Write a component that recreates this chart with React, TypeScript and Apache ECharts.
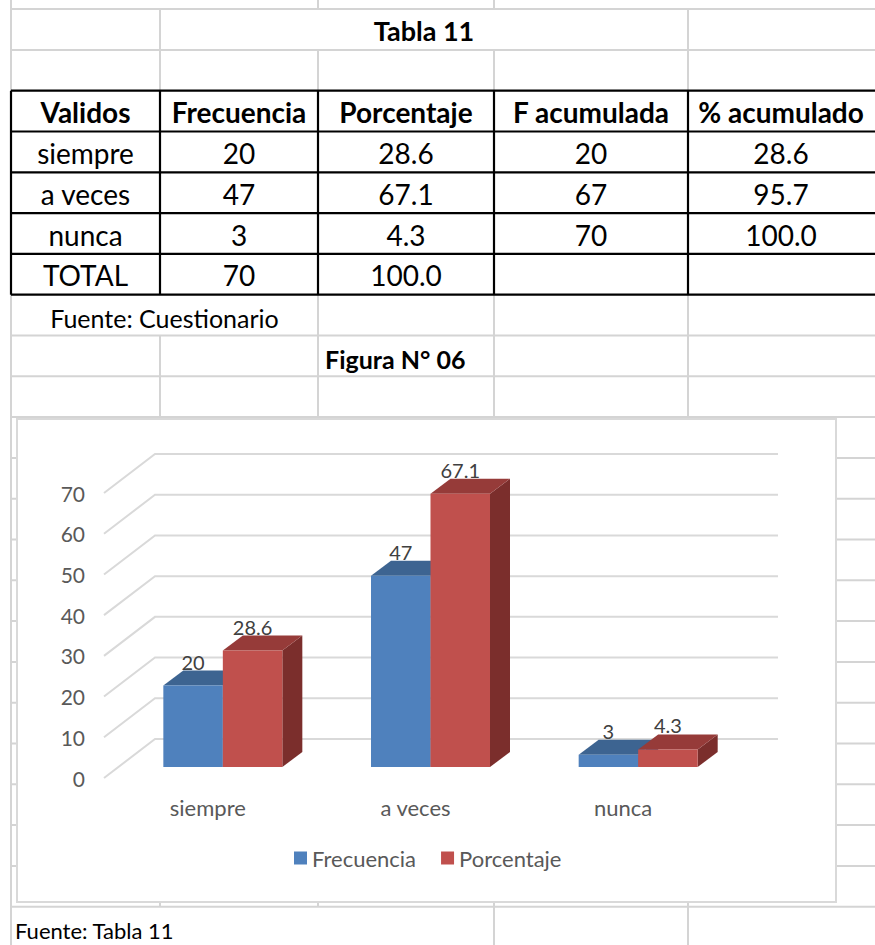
import React, { useEffect, useRef } from 'react';
import * as echarts from 'echarts';

// ---------- data ----------
const tableTitle = 'Tabla 11';
const figureTitle = 'Figura N° 06';
const tableSource = 'Fuente: Cuestionario';
const figureSource = 'Fuente: Tabla 11';
const headers = ['Validos', 'Frecuencia', 'Porcentaje', 'F acumulada', '% acumulado'];
const categories = ['siempre', 'a veces', 'nunca'];
const frecuencia = [20, 47, 3];
const porcentaje = [28.6, 67.1, 4.3];
const fAcumulada = [20, 67, 70];
const pctAcumulado = [28.6, 95.7, 100.0];
const totalLabel = 'TOTAL';
const totalFrecuencia = 70;
const totalPorcentaje = 100.0;
const seriesNames = ['Frecuencia', 'Porcentaje'];
const yTicks = [0, 10, 20, 30, 40, 50, 60, 70];

// ---------- layout / style ----------
const FONT = 'Lato, "Noto Sans", sans-serif';
const COLS = [11, 160, 318, 494, 688, 874];
const ROW0 = 9.1;
const ROW_H = 40.8;
const rowY = (k: number) => ROW0 + k * ROW_H;
const GRAY = '#d4d4d4';
const TABLE_FS = 28;
const CHART_TXT = '#595959';

const WALL_DX = 51, WALL_DY = -39;
const FRONT_DX = 15, FRONT_DY = -11;
const BD_X = 20, BD_Y = -15;
const BAR_FRAC = 0.2865;

const barColors = [
  { front: '#4f81bd', top: '#3d6491', side: '#385d89' },
  { front: '#c0504d', top: '#963b39', side: '#7b2e2c' },
];

function hline(y: number, x1: number, x2: number, color = GRAY, w = 2) {
  return { type: 'line', silent: true, z: 0, shape: { x1, y1: y, x2, y2: y }, style: { stroke: color, lineWidth: w } };
}
function vline(x: number, y1: number, y2: number, color = GRAY, w = 2) {
  return { type: 'line', silent: true, z: 0, shape: { x1: x, y1, x2: x, y2 }, style: { stroke: color, lineWidth: w } };
}
function txt(text: string, x: number, y: number, opts: any = {}) {
  return {
    type: 'text', silent: true, z: 1, x, y,
    style: {
      text, fill: opts.fill || '#000', fontSize: opts.fontSize || TABLE_FS,
      fontFamily: FONT, fontWeight: opts.bold ? 'bold' : 'normal',
      align: opts.align || 'center', verticalAlign: 'middle',
    },
  };
}

function buildGraphic() {
  const els: any[] = [];
  // gray sheet gridlines (horizontal)
  for (let k = 0; k <= 22; k++) {
    if (k >= 2 && k <= 7) continue;
    els.push(hline(rowY(k), COLS[0], 875));
  }
  // gray vertical segments
  els.push(vline(COLS[0], 0, 945));
  els.push(vline(COLS[1], rowY(0), rowY(2)), vline(COLS[1], rowY(8), rowY(10)), vline(COLS[1], 900, rowY(22)));
  els.push(vline(COLS[2], 0, rowY(0)), vline(COLS[2], rowY(1), rowY(2)), vline(COLS[2], rowY(7), rowY(10)), vline(COLS[2], 900, rowY(22)));
  els.push(vline(COLS[3], 0, rowY(0)), vline(COLS[3], rowY(1), rowY(2)), vline(COLS[3], rowY(7), rowY(10)), vline(COLS[3], 900, 945));
  els.push(vline(COLS[4], rowY(0), rowY(2)), vline(COLS[4], rowY(7), rowY(10)), vline(COLS[4], 900, 945));
  // table borders (black)
  for (let k = 2; k <= 7; k++) els.push(hline(rowY(k), COLS[0], 875, '#000', 2.2));
  for (let c = 0; c < 5; c++) els.push(vline(COLS[c], rowY(2), rowY(7), '#000', 2.2));

  const colC = (c: number) => (COLS[c] + COLS[c + 1]) / 2;
  const rowC = (k: number) => rowY(k) + ROW_H / 2 + 1;

  els.push(txt(tableTitle, (COLS[1] + COLS[4]) / 2, rowC(0), { bold: true, fontSize: 27 }));
  headers.forEach((h, c) => els.push(txt(h, colC(c), rowC(2), { bold: true })));
  categories.forEach((cat, i) => {
    const k = 3 + i;
    els.push(txt(cat, colC(0), rowC(k)));
    els.push(txt(String(frecuencia[i]), colC(1), rowC(k)));
    els.push(txt(porcentaje[i].toFixed(1), colC(2), rowC(k)));
    els.push(txt(String(fAcumulada[i]), colC(3), rowC(k)));
    els.push(txt(pctAcumulado[i].toFixed(1), colC(4), rowC(k)));
  });
  els.push(txt(totalLabel, colC(0), rowC(6)));
  els.push(txt(String(totalFrecuencia), colC(1), rowC(6)));
  els.push(txt(totalPorcentaje.toFixed(1), colC(2), rowC(6)));
  els.push(txt(tableSource, (COLS[0] + COLS[2]) / 2, rowC(7) + 2, { fontSize: 25 }));
  els.push(txt(figureTitle, COLS[2] + 7, rowC(8) + 2, { bold: true, align: 'left', fontSize: 25 }));

  // chart area
  els.push({
    type: 'rect', silent: true, z: 2,
    shape: { x: 17, y: 419, width: 819, height: 483 },
    style: { fill: '#ffffff', stroke: '#d9d9d9', lineWidth: 2 },
  });
  els.push(txt(figureSource, 15, 930, { align: 'left', fontSize: 22 }));
  return els;
}

function wallSeries() {
  return {
    type: 'custom', name: '_wall', z: 3, silent: true, clip: false,
    data: yTicks.map((v) => [0, v]),
    encode: { x: 0, y: 1 },
    renderItem: (params: any, api: any) => {
      const cs = params.coordSys;
      const y = api.coord([0, api.value(1)])[1];
      return {
        type: 'polyline',
        shape: { points: [[cs.x, y], [cs.x + WALL_DX, y + WALL_DY], [cs.x + cs.width + WALL_DX, y + WALL_DY]] },
        style: { stroke: '#d9d9d9', lineWidth: 2, fill: null },
      };
    },
  };
}

function barSeries(name: string, values: number[], idx: number) {
  const col = barColors[idx];
  return {
    type: 'custom', name, z: 5, clip: false,
    itemStyle: { color: col.front },
    data: values.map((v, i) => [i, v]),
    encode: { x: 0, y: 1 },
    renderItem: (params: any, api: any) => {
      const ci = api.value(0);
      const v = api.value(1);
      const base = api.coord([ci, 0]);
      const top = api.coord([ci, v]);
      const band = api.size([1, 0])[0];
      const w = band * BAR_FRAC;
      const x0 = base[0] - w + idx * w + FRONT_DX;
      const x1 = x0 + w;
      const yb = base[1] + FRONT_DY;
      const yt = top[1] + FRONT_DY;
      return {
        type: 'group',
        children: [
          { type: 'polygon', shape: { points: [[x1, yb], [x1 + BD_X, yb + BD_Y], [x1 + BD_X, yt + BD_Y], [x1, yt]] }, style: { fill: col.side } },
          { type: 'polygon', shape: { points: [[x0, yt], [x0 + BD_X, yt + BD_Y], [x1 + BD_X, yt + BD_Y], [x1, yt]] }, style: { fill: col.top } },
          { type: 'rect', shape: { x: x0, y: yt, width: w, height: yb - yt }, style: { fill: col.front } },
          {
            type: 'text', x: x0 + w / 2, y: yt + BD_Y + 1,
            style: { text: String(values[ci]), fill: '#404040', fontSize: 20, fontFamily: FONT, align: 'center', verticalAlign: 'bottom' },
          },
        ],
      };
    },
  };
}

export default function App() {
  const ref = useRef<HTMLDivElement>(null);
  useEffect(() => {
    document.body.style.margin = '0';
    const chart = echarts.init(ref.current!, undefined, { renderer: 'svg' });
    const option: any = {
      animation: false,
      backgroundColor: '#ffffff',
      graphic: { elements: buildGraphic() },
      grid: { left: 104, top: 493, width: 623, height: 285, containLabel: false },
      xAxis: {
        type: 'category', data: categories, z: 6,
        axisLine: { show: false }, axisTick: { show: false }, splitLine: { show: false },
        axisLabel: { color: CHART_TXT, fontSize: 22, fontFamily: FONT, margin: 18 },
      },
      yAxis: {
        type: 'value', min: 0, max: 70, interval: 10, z: 6,
        axisLine: { show: false }, axisTick: { show: false }, splitLine: { show: false },
        axisLabel: { color: CHART_TXT, fontSize: 21, fontFamily: FONT, margin: 19 },
      },
      legend: {
        data: seriesNames, left: 294, top: 847, z: 10, padding: 0,
        icon: 'rect', itemWidth: 13, itemHeight: 13, itemGap: 25,
        textStyle: { color: CHART_TXT, fontSize: 22, fontFamily: FONT },
        selectedMode: false,
      },
      series: [wallSeries(), barSeries(seriesNames[0], frecuencia, 0), barSeries(seriesNames[1], porcentaje, 1)],
    };
    chart.setOption(option);
    return () => chart.dispose();
  }, []);
  return <div ref={ref} style={{ position: 'absolute', left: 0, top: 0, width: 875, height: 945, background: '#fff' }} />;
}
